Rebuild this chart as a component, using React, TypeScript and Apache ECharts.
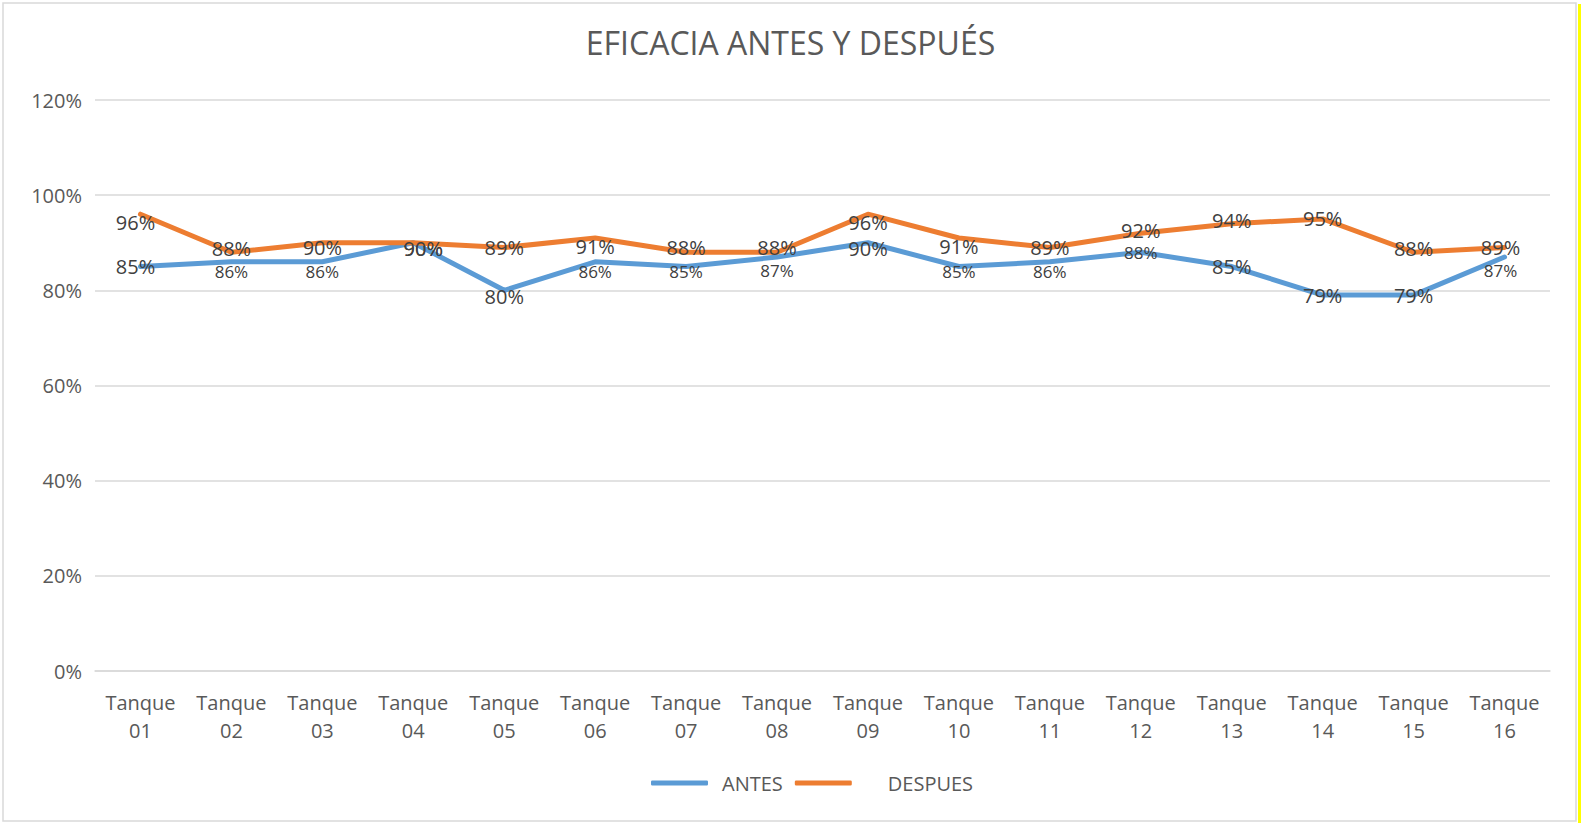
import React, { useEffect, useRef } from "react";
import * as echarts from "echarts";

const TITLE = "EFICACIA ANTES Y DESPUÉS";
const CATEGORIES = [
  "Tanque\n01", "Tanque\n02", "Tanque\n03", "Tanque\n04", "Tanque\n05", "Tanque\n06",
  "Tanque\n07", "Tanque\n08", "Tanque\n09", "Tanque\n10", "Tanque\n11", "Tanque\n12",
  "Tanque\n13", "Tanque\n14", "Tanque\n15", "Tanque\n16",
];
const ANTES = [85, 86, 86, 90, 80, 86, 85, 87, 90, 85, 86, 88, 85, 79, 79, 87];
const DESPUES = [96, 88, 90, 90, 89, 91, 88, 88, 96, 91, 89, 92, 94, 95, 88, 89];
const Y_TICKS = [0, 20, 40, 60, 80, 100, 120];

// label styling (not data): small-type indices and vertical nudges in px
const SMALL_ANTES_LABELS = [1, 2, 5, 6, 7, 9, 10, 11, 15];
const ANTES_LABEL_DY = [0, 10, 10, 6, 6, 10, 5, 13, 6, 5, 10, 0, 0, 0, 0, 13];
const DESPUES_LABEL_DY = [8, -4, 5, 6, 0, 9, -5, -5, 8, 9, 0, -3, -3, 0, -4, 0];
const LABEL_DX: Record<number, number> = { 0: -5, 3: 10, 15: -4 };

const FONT = "'Open Sans', 'Noto Sans', sans-serif";
const BLUE = "#5B9BD5";
const ORANGE = "#ED7D31";
const TEXT = "#595959";

export default function App() {
  const ref = useRef<HTMLDivElement>(null);
  useEffect(() => {
    if (!ref.current) return;
    const chart = echarts.init(ref.current, null, { renderer: "svg" });
    const fmt = (p: any) => Math.round(p.value) + "%";
    chart.setOption({
      animation: false,
      backgroundColor: "#FFFFFF",
      textStyle: { fontFamily: FONT },
      title: {
        text: TITLE,
        left: "center",
        top: 26,
        padding: 0,
        textStyle: { fontFamily: FONT, fontSize: 32, fontWeight: "normal", color: TEXT },
      },
      legend: {
        data: ["ANTES", "DESPUES"],
        bottom: 25,
        left: 646,
        icon: "roundRect",
        itemWidth: 57,
        itemHeight: 5,
        itemGap: 12,
        formatter: (name: string) => (name === "DESPUES" ? "{d|" + name + "}" : "{a|" + name + "}"),
        textStyle: {
          fontFamily: FONT,
          fontSize: 20,
          color: TEXT,
          rich: {
            a: { fontFamily: FONT, fontSize: 20, color: TEXT, padding: [0, 0, 0, 9] },
            d: { fontFamily: FONT, fontSize: 20, color: TEXT, padding: [0, 0, 0, 31] },
          },
        },
      },
      grid: { left: 95, right: 31, top: 100, bottom: 152, containLabel: false },
      xAxis: {
        type: "category",
        data: CATEGORIES,
        boundaryGap: true,
        axisLine: { show: true, lineStyle: { color: "#D9D9D9", width: 1.5 } },
        axisTick: { show: false },
        axisLabel: {
          interval: 0,
          margin: 17,
          lineHeight: 28,
          fontFamily: FONT,
          fontSize: 20,
          color: TEXT,
        },
      },
      yAxis: {
        type: "value",
        min: Y_TICKS[0],
        max: Y_TICKS[Y_TICKS.length - 1],
        interval: Y_TICKS[1] - Y_TICKS[0],
        axisLine: { show: false },
        axisTick: { show: false },
        splitLine: { lineStyle: { color: "#D9D9D9", width: 1.5 } },
        axisLabel: {
          formatter: "{value}%",
          margin: 13,
          fontFamily: FONT,
          fontSize: 20,
          color: TEXT,
        },
      },
      series: [
        {
          name: "ANTES",
          type: "line",
          data: ANTES.map((v, i) => ({
            value: v,
            label: {
              fontSize: SMALL_ANTES_LABELS.includes(i) ? 17 : 20,
              offset: [LABEL_DX[i] || 0, ANTES_LABEL_DY[i]],
            },
          })),
          symbol: "circle",
          symbolSize: 1,
          color: BLUE,
          lineStyle: { color: BLUE, width: 5, cap: "round", join: "round" },
          label: {
            show: true,
            position: "inside",
            formatter: fmt,
            fontFamily: FONT,
            fontSize: 20,
            color: "#404040",
          },
          z: 2,
        },
        {
          name: "DESPUES",
          type: "line",
          data: DESPUES.map((v, i) => ({
            value: v,
            label: { offset: [LABEL_DX[i] || 0, DESPUES_LABEL_DY[i]] },
          })),
          symbol: "circle",
          symbolSize: 1,
          color: ORANGE,
          lineStyle: { color: ORANGE, width: 5, cap: "round", join: "round" },
          label: {
            show: true,
            position: "inside",
            formatter: fmt,
            fontFamily: FONT,
            fontSize: 20,
            color: "#404040",
          },
          z: 3,
        },
      ],
      graphic: [
        {
          type: "rect",
          shape: { x: 3, y: 3, width: 1573, height: 818 },
          style: { fill: "none", stroke: "#D9D9D9", lineWidth: 1.5 },
          silent: true,
        },
        {
          type: "rect",
          shape: { x: 1578, y: 4, width: 3, height: 819 },
          style: { fill: "#FFFF00" },
          silent: true,
        },
      ],
    });
    return () => chart.dispose();
  }, []);
  return (
    <div
      ref={ref}
      style={{ position: "absolute", left: 0, top: 0, width: 1581, height: 823 }}
    />
  );
}
